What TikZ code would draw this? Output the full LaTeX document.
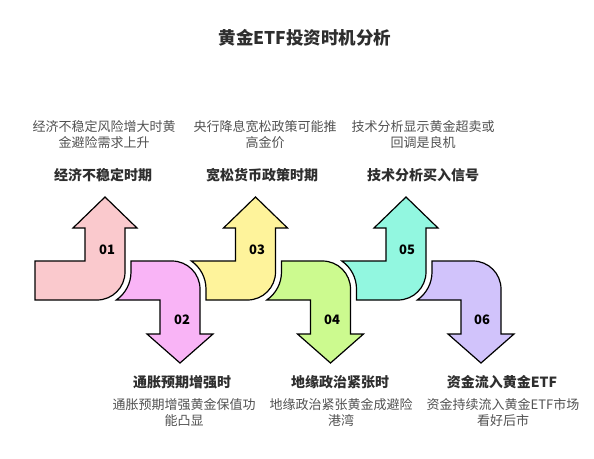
\documentclass[tikz,border=0pt]{standalone}
\usepackage{fontspec}
\setmainfont{Noto Sans CJK SC}
\begin{document}
\begin{tikzpicture}[x=1pt,y=-1pt,
  arrowshape/.style={draw=black,line width=1.2pt,line join=miter},
  numlbl/.style={font=\fontsize{13}{13}\selectfont\bfseries,text=black},
  ttl/.style={font=\fontsize{14}{16}\selectfont\bfseries,text=black!82},
  desc/.style={font=\fontsize{13}{15.5}\selectfont,text=black!68,align=center},
]
\definecolor{cA}{HTML}{FAC9CD}
\definecolor{cB}{HTML}{F9B4F6}
\definecolor{cC}{HTML}{FEF39B}
\definecolor{cD}{HTML}{CCFA8F}
\definecolor{cE}{HTML}{92F7E0}
\definecolor{cF}{HTML}{D1C3FB}
\useasboundingbox (0,0) rectangle (594,458);
\fill[white] (0,0) rectangle (594,458);

% pair 1
\draw[arrowshape,fill=cA] (35,261) -- (85,261) -- (85,228) -- (73,228) -- (105,197) -- (137,228) -- (125,228) -- (125,272) .. controls (125,287.46) and (112.46,300) .. (97,300) -- (35,300) -- cycle;
\draw[arrowshape,fill=cB] (131,261) -- (172,261) .. controls (187.46,261) and (200,273.54) .. (200,289) -- (200,334) -- (213,334) -- (180,363) -- (147,334) -- (160,334) -- (160,300) -- (116.29,300) .. controls (125.49,293.65) and (131,283.18) .. (131,272) -- cycle;

% pair 2
\begin{scope}[xshift=150.5pt]
\draw[arrowshape,fill=cC] (40.79,261) -- (85,261) -- (85,228) -- (73,228) -- (105,197) -- (137,228) -- (125,228) -- (125,272) .. controls (125,287.46) and (112.46,300) .. (97,300) -- (55.5,300) -- (55.5,289) .. controls (55.5,277.82) and (49.99,267.35) .. (40.79,261) -- cycle;
\draw[arrowshape,fill=cD] (131,261) -- (172,261) .. controls (187.46,261) and (200,273.54) .. (200,289) -- (200,334) -- (213,334) -- (180,363) -- (147,334) -- (160,334) -- (160,300) -- (116.29,300) .. controls (125.49,293.65) and (131,283.18) .. (131,272) -- cycle;
\end{scope}

% pair 3
\begin{scope}[xshift=301pt]
\draw[arrowshape,fill=cE] (40.79,261) -- (85,261) -- (85,228) -- (73,228) -- (105,197) -- (137,228) -- (125,228) -- (125,272) .. controls (125,287.46) and (112.46,300) .. (97,300) -- (55.5,300) -- (55.5,289) .. controls (55.5,277.82) and (49.99,267.35) .. (40.79,261) -- cycle;
\draw[arrowshape,fill=cF] (131,261) -- (172,261) .. controls (187.46,261) and (200,273.54) .. (200,289) -- (200,334) -- (213,334) -- (180,363) -- (147,334) -- (160,334) -- (160,300) -- (116.29,300) .. controls (125.49,293.65) and (131,283.18) .. (131,272) -- cycle;
\end{scope}

% numbers
\node[numlbl] (n1) at (107,250) {01};
\node[numlbl] (n2) at (182,320) {02};
\node[numlbl] (n3) at (257,250) {03};
\node[numlbl] (n4) at (332,320) {04};
\node[numlbl] (n5) at (407,250) {05};
\node[numlbl] (n6) at (482,320) {06};

% title
\node[font=\fontsize{17.5}{20}\selectfont\bfseries,text=black!82] (title) at (305,38) {黄金ETF投资时机分析};

% top texts
\node[desc] (d1) at (104,134.5) {经济不稳定风险增大时黄\\金避险需求上升};
\node[ttl] (t1) at (103,175) {经济不稳定时期};
\node[desc] (d3) at (265,134.5) {央行降息宽松政策可能推\\高金价};
\node[ttl] (t3) at (262,175) {宽松货币政策时期};
\node[desc] (d5) at (423,134.5) {技术分析显示黄金超卖或\\回调是良机};
\node[ttl] (t5) at (423,175) {技术分析买入信号};

% bottom texts
\node[ttl] (t2) at (182,382) {通胀预期增强时};
\node[desc] (d2) at (184,412.5) {通胀预期增强黄金保值功\\能凸显};
\node[ttl] (t4) at (340,382) {地缘政治紧张时};
\node[desc] (d4) at (341,412.5) {地缘政治紧张黄金成避险\\港湾};
\node[ttl] (t6) at (502,382) {资金流入黄金ETF};
\node[desc] (d6) at (503,412.5) {资金持续流入黄金ETF市场\\看好后市};
\end{tikzpicture}
\end{document}
